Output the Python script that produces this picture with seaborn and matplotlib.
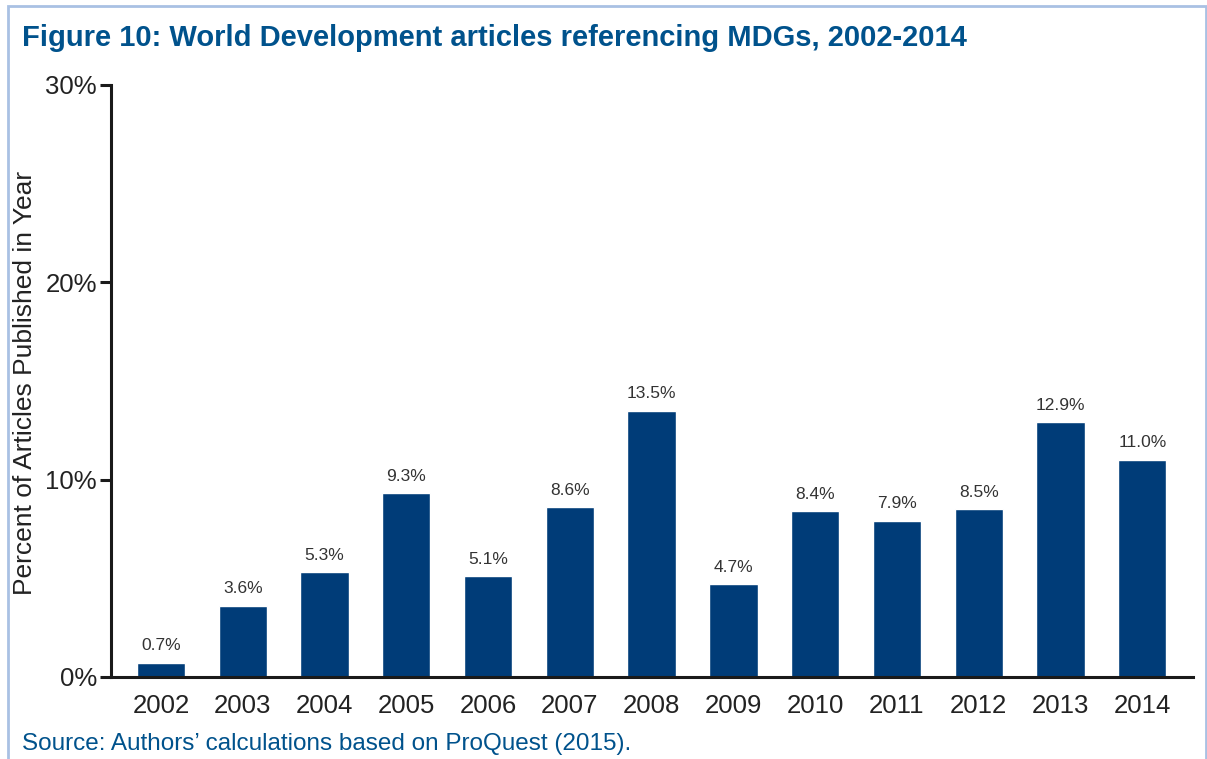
import matplotlib
matplotlib.use("Agg")
import matplotlib.pyplot as plt
import seaborn as sns
import pandas as pd
from matplotlib.patches import Rectangle
from matplotlib.ticker import FuncFormatter

years = ["2002", "2003", "2004", "2005", "2006", "2007", "2008",
         "2009", "2010", "2011", "2012", "2013", "2014"]
percent = [0.7, 3.6, 5.3, 9.3, 5.1, 8.6, 13.5, 4.7, 8.4, 7.9, 8.5, 12.9, 11.0]
y_ticks = [0, 10, 20, 30]

title_text = "Figure 10: World Development articles referencing MDGs, 2002-2014"
source_text = "Source: Authors\u2019 calculations based on ProQuest (2015)."
y_label = "Percent of Articles Published in Year"

BAR = "#003c78"
BLUE_TEXT = "#00528c"
FRAME = "#a9c1e3"

sns.set_theme(style="white")
plt.rcParams["font.family"] = ["Liberation Sans", "DejaVu Sans"]

df = pd.DataFrame({"year": years, "pct": percent})

fig = plt.figure(figsize=(12.07, 7.59), dpi=100)
ax = fig.add_axes([111 / 1207, 1 - 677 / 759, (1193 - 111) / 1207, (677 - 85) / 759])

sns.barplot(data=df, x="year", y="pct", color=BAR, saturation=1, width=0.59, ax=ax)

ax.set_xlim(-0.61, 12.62)
ax.set_ylim(0, 30)
ax.set_yticks(y_ticks)
ax.yaxis.set_major_formatter(FuncFormatter(lambda v, p: f"{v:.0f}%"))

for spine in ["top", "right"]:
    ax.spines[spine].set_visible(False)
for spine in ["left", "bottom"]:
    ax.spines[spine].set_color("#1a1a1a")
    ax.spines[spine].set_linewidth(2.2)

ax.tick_params(axis="y", which="major", left=True, length=8, width=2.2,
               color="#1a1a1a", labelsize=18.5, labelcolor="#222222", pad=2)
ax.tick_params(axis="x", bottom=False, labelsize=18.5, labelcolor="#222222", pad=6)
ax.set_xlabel("")
ax.set_ylabel("")

fig.text(25 / 1207, 1 - 383 / 759, y_label, fontsize=19, color="#222222",
         rotation=90, ha="center", va="center")

for i, v in enumerate(percent):
    ax.annotate(f"{v:.1f}%", xy=(i, v), xytext=(0, 7), textcoords="offset points",
                ha="center", va="bottom", fontsize=12.5, color="#333333")

fig.text(22 / 1207, 1 - 38 / 759, title_text, fontsize=21, fontweight="bold",
         color=BLUE_TEXT, ha="left", va="center")
fig.text(22 / 1207, 1 - 744 / 759, source_text, fontsize=17.5,
         color=BLUE_TEXT, ha="left", va="center")

frame = Rectangle((8 / 1207, -0.05), (1206 - 8) / 1207, 1.05 - 6 / 759,
                  transform=fig.transFigure, fill=False, edgecolor=FRAME,
                  linewidth=2.0, clip_on=False)
fig.patches.append(frame)

fig.savefig("out.png", dpi=100)
